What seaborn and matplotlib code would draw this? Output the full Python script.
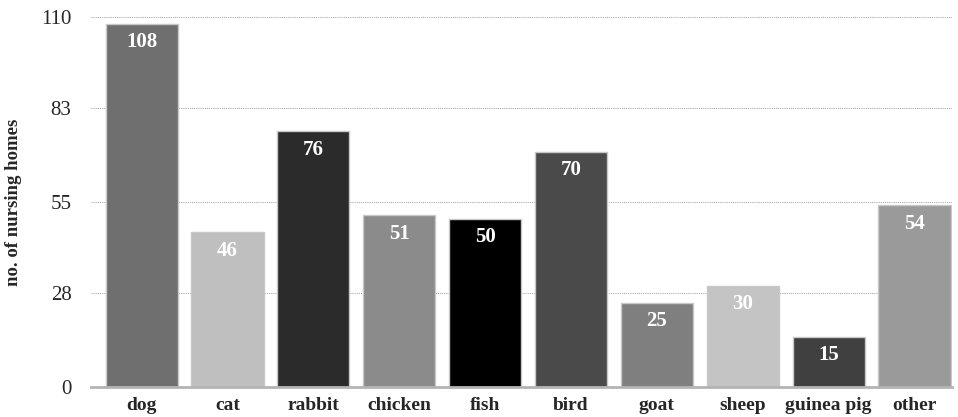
import matplotlib
matplotlib.use("Agg")
import matplotlib.pyplot as plt
import seaborn as sns
import pandas as pd

# pets kept in nursing homes
animals = ["dog", "cat", "rabbit", "chicken", "fish", "bird", "goat", "sheep", "guinea pig", "other"]
counts = [108, 46, 76, 51, 50, 70, 25, 30, 15, 54]
bar_colors = ["#6f6f6f", "#bfbfbf", "#2b2b2b", "#8b8b8b", "#000000",
              "#4a4a4a", "#7f7f7f", "#c4c4c4", "#404040", "#9a9a9a"]
yticks = [0, 28, 55, 83, 110]

sns.set_style("white")
plt.rcParams["font.family"] = ["Liberation Serif", "DejaVu Serif"]

df = pd.DataFrame({"animal": animals, "count": counts})

fig = plt.figure(figsize=(9.58, 4.17), dpi=100)
ax = fig.add_axes([0.095, 0.072, 0.899, 0.887])

ax.set_axisbelow(True)
ax.yaxis.grid(True, linestyle=(0, (1, 1.2)), color="#9a9a9a", linewidth=0.7)

sns.barplot(data=df, x="animal", y="count", hue="animal", palette=bar_colors,
            legend=False, width=0.84, edgecolor="#c8c8c8", linewidth=1, ax=ax)

for i, v in enumerate(counts):
    ax.annotate(str(v), xy=(i, v), xytext=(0, -6), textcoords="offset points",
                ha="center", va="top", color="white", fontweight="bold", fontsize=15)

ax.set_ylim(0, 110)
ax.set_xlim(-0.59, 9.44)
ax.set_yticks(yticks)
ax.set_yticklabels([str(t) for t in yticks], fontsize=15)
ax.tick_params(axis="y", length=0, pad=14)
ax.tick_params(axis="x", length=0, pad=7)
for lab in ax.get_xticklabels():
    lab.set_fontweight("bold")
    lab.set_fontsize(14)

ax.set_xlabel("")
ax.set_ylabel("no. of nursing homes", fontsize=13.5, fontweight="bold", labelpad=14)

for s in ["top", "right", "left"]:
    ax.spines[s].set_visible(False)
ax.spines["bottom"].set_color("#b4b4b4")
ax.spines["bottom"].set_linewidth(2)

fig.savefig("out.png", dpi=100)
